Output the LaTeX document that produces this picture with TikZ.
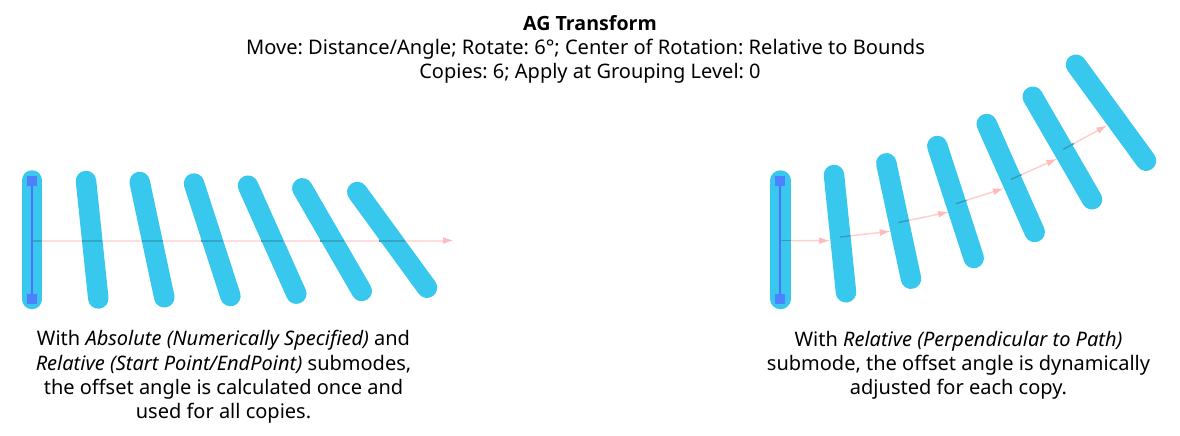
\documentclass[tikz,border=0pt]{standalone}
\usepackage{fontspec}
\setmainfont{Noto Sans}
\newfontfamily\titlefont{Open Sans}
\usetikzlibrary{arrows.meta,calc}
\definecolor{barblue}{HTML}{38C8EE}
\definecolor{handleblue}{HTML}{4F80FF}
\definecolor{pathblue}{HTML}{4F70FF}
\definecolor{tippink}{HTML}{FFBBBB}
\definecolor{leftpink}{HTML}{FFDDDD}
\definecolor{rightpink}{HTML}{FFCFCF}
\definecolor{leftdark}{HTML}{2FA7C6}
\definecolor{rightdark}{HTML}{2F9DBB}
\tikzset{
  x=1pt,y=-1pt,
  copybar/.style={line width=20.5pt,line cap=round,draw=barblue},
  pathline/.style={line width=2.6pt,draw=pathblue},
  handle/.style={fill=handleblue,draw=none,minimum size=10pt,inner sep=0pt,shape=rectangle},
  offsetl/.style={draw=leftpink,line width=2pt,-{Latex[length=11pt,width=7pt,color=tippink]}},
  offsetr/.style={draw=rightpink,line width=1.5pt,-{Latex[length=11pt,width=7pt,color=tippink]}},
  darkl/.style={draw=leftdark,line width=2pt},
  darkr/.style={draw=rightdark,line width=1.4pt},
  capt/.style={align=center,font=\fontsize{20}{24.2}\selectfont\frenchspacing,inner sep=0pt,text=black},
}
\begin{document}
\begin{tikzpicture}
\useasboundingbox (0,0) rectangle (1180,436);
% offset paths (under the bars)
\coordinate (L0) at (32,240.5);
\coordinate (Lend) at (454,240.5);
\draw[offsetl] (L0) -- (Lend);
\coordinate (R0) at (780.5,240.5);
\coordinate (R1) at (840,237);
\coordinate (R2) at (898.3,222.5);
\coordinate (R3) at (956,203.7);
\coordinate (R4) at (1011,179.3);
\coordinate (R5) at (1063.3,149.3);
\coordinate (T1) at (830,240.7);
\coordinate (T2) at (890.7,231.3);
\coordinate (T3) at (949,212);
\coordinate (T4) at (1004,188.3);
\coordinate (T5) at (1057.3,158.7);
\coordinate (T6) at (1107.3,125.3);
\draw[offsetr] (R0) -- (T1);
\draw[offsetr] (R1) -- (T2);
\draw[offsetr] (R2) -- (T3);
\draw[offsetr] (R3) -- (T4);
\draw[offsetr] (R4) -- (T5);
\draw[offsetr] (R5) -- (T6);
% left bars
\draw[copybar] (32,180.5) -- (32,299);
\draw[copybar] (86,181) -- (98.3,298.5);
\draw[copybar] (139.7,182) -- (164.3,297.3);
\draw[copybar] (194,183.5) -- (230.4,296);
\draw[copybar] (248,185.7) -- (296.3,293.7);
\draw[copybar] (302.3,188.3) -- (361.7,291);
\draw[copybar] (357.3,192) -- (427,287.7);
% right bars
\draw[copybar] (780.5,180.5) -- (780.5,299);
\draw[copybar] (834,175) -- (846,292.3);
\draw[copybar] (886.3,163.3) -- (911,278.7);
\draw[copybar] (937.3,146) -- (973.7,258);
\draw[copybar] (986.7,124) -- (1034.7,232);
\draw[copybar] (1032.7,96.7) -- (1092,199.3);
\draw[copybar] (1076,64.7) -- (1146,160.7);
% path where it lies over the bars
\draw[darkl] (L0) -- (42.2,240.5);
\draw[darkl] (81.7,240.5) -- (102.3,240.5);
\draw[darkl] (141.5,240.5) -- (162.5,240.5);
\draw[darkl] (201.2,240.5) -- (222.8,240.5);
\draw[darkl] (260.8,240.5) -- (283.2,240.5);
\draw[darkl] (320.1,240.5) -- (343.9,240.5);
\draw[darkl] (379.3,240.5) -- (404.7,240.5);
\draw[darkr] (R0) -- (790.8,240.5);
\draw[darkr] (R1) -- ($(R1)!10.5pt!(T2)$);
\draw[darkr] (R2) -- ($(R2)!10.7pt!(T3)$);
\draw[darkr] (R3) -- ($(R3)!11pt!(T4)$);
\draw[darkr] (R4) -- ($(R4)!11.5pt!(T5)$);
\draw[darkr] (R5) -- ($(R5)!12pt!(T6)$);
% source paths
\node[handle] (la) at (32,181) {};
\node[handle] (lb) at (32,299) {};
\draw[pathline] (la) -- (lb);
\node[handle] (ra) at (780,181) {};
\node[handle] (rb) at (780,299) {};
\draw[pathline] (ra) -- (rb);
% texts
\node[capt] (title) at (585.5,49.5) {\hspace*{9pt}{\titlefont\bfseries\fontsize{19.6}{24.2}\selectfont AG Transform}\\{\fontsize{20.1}{24.2}\selectfont Move: Distance/Angle; Rotate: 6°; Center of Rotation: Relative to Bounds}\\\hspace*{9pt}Copies: 6; Apply at Grouping Level: 0};
\node[capt] (capl) at (223.5,377) {With \textit{Absolute (Numerically Specified)} and\\\textit{Relative (Start Point/EndPoint)} submodes,\\the offset angle is calculated once and\\used for all copies.};
\node[capt] (capr) at (958.5,365) {With \textit{Relative (Perpendicular to Path)}\\submode, the offset angle is dynamically\\adjusted for each copy.};
\end{tikzpicture}
\end{document}
